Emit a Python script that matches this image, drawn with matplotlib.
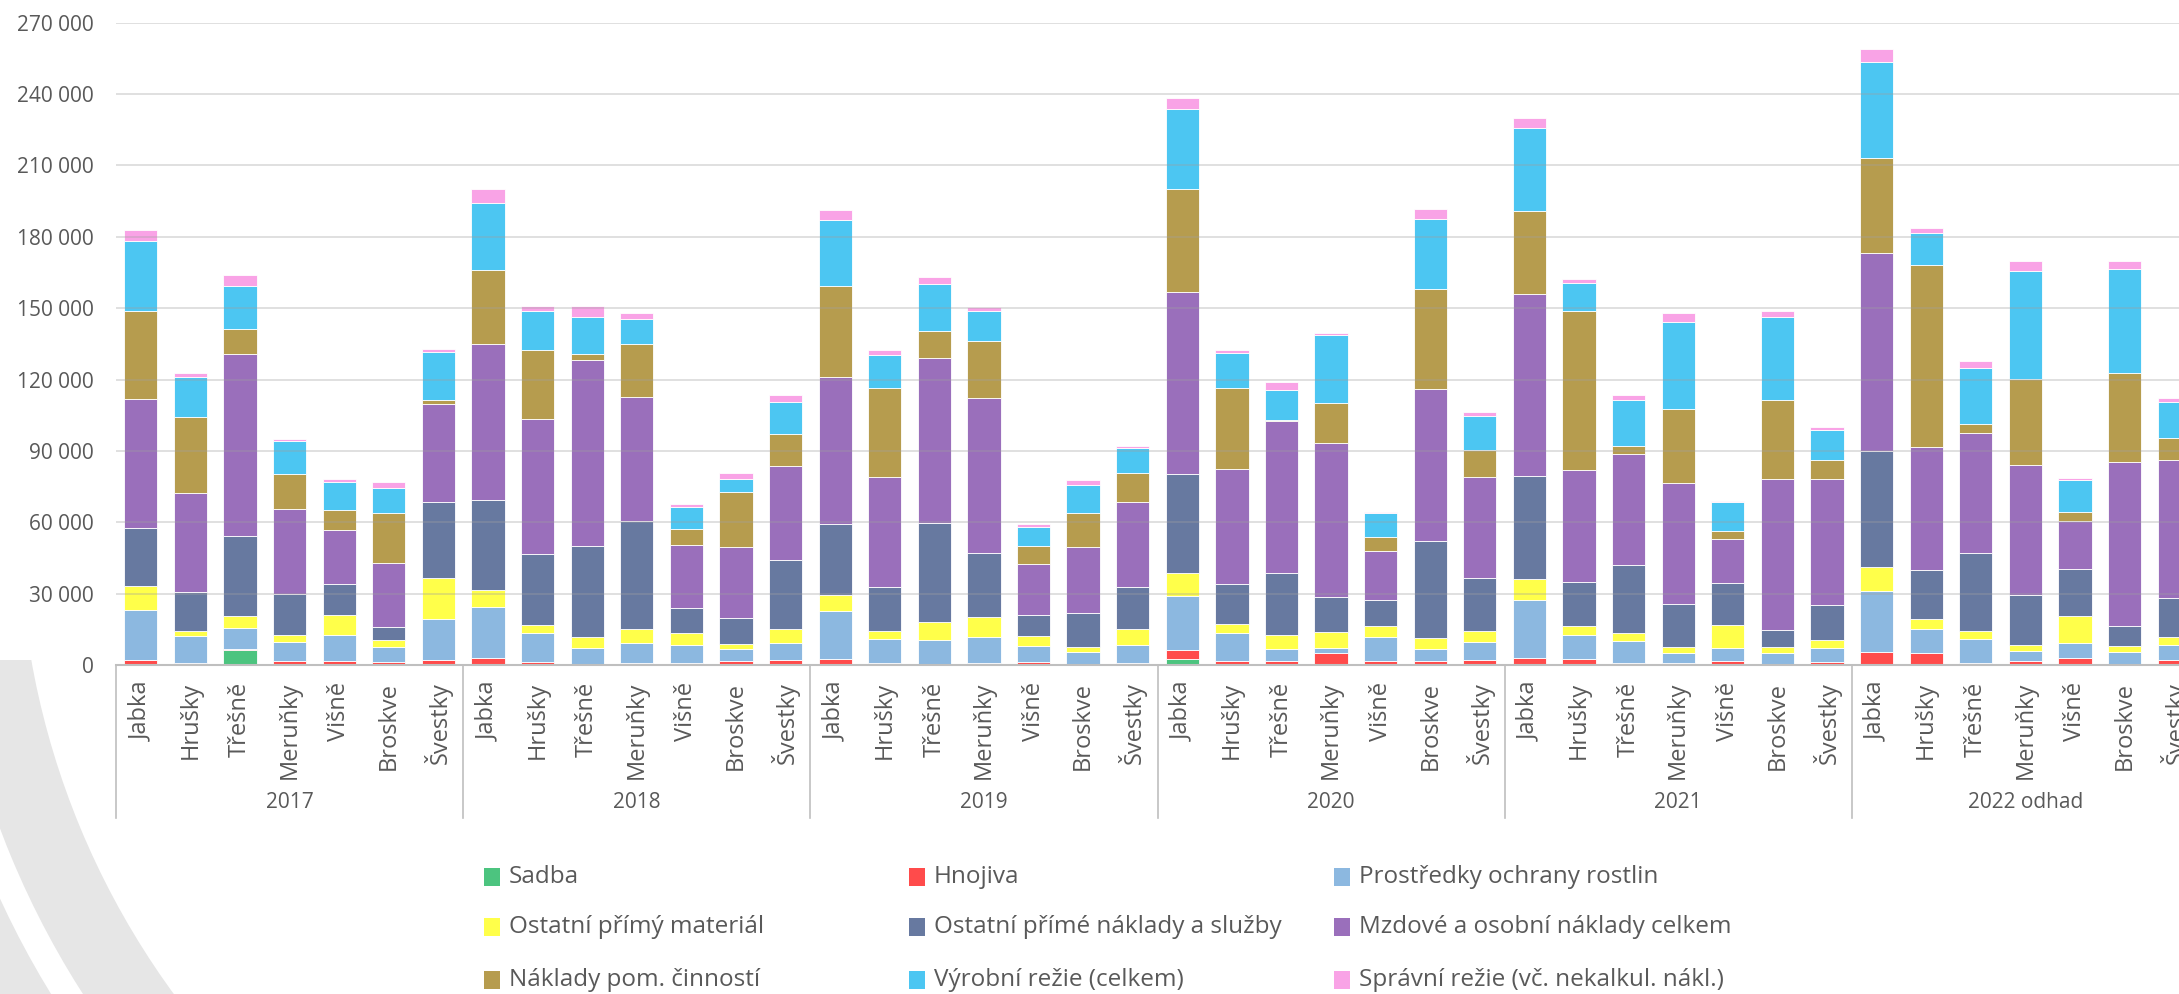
import numpy as np
import matplotlib
matplotlib.use("Agg")
import matplotlib.pyplot as plt
from matplotlib.patches import Wedge, Rectangle
import matplotlib.transforms as mtransforms

plt.rcParams['font.family'] = ['Open Sans', 'DejaVu Sans']

fruits = ["Jabka", "Hrušky", "Třešně", "Meruňky", "Višně", "Broskve", "Švestky"]
years = ["2017", "2018", "2019", "2020", "2021", "2022 odhad"]

# values per bar, years one after another (7 fruits each)
sadba = [0, 0, 6200, 0, 0, 0, 300,
         0, 0, 0, 0, 0, 0, 0,
         0, 0, 0, 0, 0, 0, 0,
         2500, 0, 0, 0, 0, 0, 0,
         0, 0, 0, 0, 0, 0, 0,
         0, 0, 0, 0, 0, 0, 200]
hnojiva = [2200, 700, 500, 1500, 1500, 1300, 1900,
           2800, 1300, 500, 700, 700, 1500, 2000,
           2500, 800, 400, 700, 1100, 600, 700,
           3700, 1800, 1800, 5100, 1500, 1500, 2000,
           3100, 2700, 700, 1000, 1500, 300, 1300,
           5500, 5100, 1000, 1800, 3100, 400, 2000]
ochrana = [21000, 11400, 8700, 8300, 11200, 6300, 17300,
           21600, 12100, 6500, 8400, 7600, 5200, 7100,
           20300, 10100, 10000, 11100, 6700, 5000, 7600,
           22800, 11500, 4800, 2100, 10200, 5300, 7600,
           24100, 9800, 9500, 4100, 5800, 4800, 5700,
           25400, 9900, 10000, 4200, 6000, 5100, 6200]
prime_material = [10100, 2200, 5100, 2700, 8400, 3000, 17000,
                  7100, 3500, 4800, 6200, 5000, 2000, 6200,
                  6500, 3600, 7700, 8300, 4200, 1800, 6700,
                  9500, 4100, 6200, 6600, 4800, 4400, 4800,
                  9100, 4100, 3400, 2500, 9500, 2400, 3500,
                  10100, 4500, 3500, 2500, 11400, 2500, 3500]
prime_sluzby = [24500, 16300, 33700, 17200, 12800, 5500, 32100,
                37900, 29700, 38300, 45100, 10700, 11100, 28900,
                30000, 18200, 41600, 27100, 9000, 14400, 17800,
                41600, 16700, 25900, 14900, 10900, 40900, 22300,
                43000, 18100, 28500, 18100, 17700, 7400, 14600,
                48800, 20500, 32400, 20800, 19900, 8400, 16300]
mzdy = [54200, 41600, 76400, 35700, 22900, 26900, 41000,
        65700, 56900, 78200, 52200, 26500, 29900, 39500,
        61700, 46300, 69500, 65200, 21300, 28000, 35700,
        76700, 48500, 64000, 64500, 20500, 63800, 42500,
        76700, 47400, 46600, 50700, 18600, 63400, 53100,
        83200, 51600, 50700, 54900, 20300, 69000, 57900]
pomocne = [36700, 32100, 10600, 14900, 8400, 21000, 1900,
           30800, 29100, 2400, 22300, 6500, 22900, 13500,
           38400, 37300, 11100, 23600, 7600, 13900, 12000,
           43100, 33900, 300, 17100, 5900, 42100, 11100,
           34800, 66900, 3400, 31300, 3100, 33200, 8100,
           40100, 76400, 3800, 36000, 3500, 37500, 9300]
vyrobni_rezie = [29600, 16900, 18300, 13900, 11800, 10600, 20000,
                 28400, 16300, 15400, 10400, 9400, 5400, 13500,
                 27700, 14200, 19700, 12800, 8300, 12100, 10600,
                 33700, 14600, 12500, 28400, 9900, 29400, 14400,
                 34900, 11500, 19300, 36600, 12200, 34600, 12500,
                 40400, 13500, 23600, 45400, 13400, 43500, 15200]
spravni_rezie = [4600, 1400, 4600, 800, 1000, 2400, 1400,
                 5700, 2200, 5000, 2700, 1400, 2600, 2600,
                 4100, 2100, 3200, 1900, 1000, 2100, 1000,
                 4800, 1400, 3400, 1000, 700, 4100, 1700,
                 4300, 1900, 1900, 3600, 700, 2900, 1400,
                 5500, 2400, 2600, 4300, 800, 3600, 1700]

series = [
    ("Sadba", sadba, "#4cc47f"),
    ("Hnojiva", hnojiva, "#ff4b4b"),
    ("Prostředky ochrany rostlin", ochrana, "#8cb8e0"),
    ("Ostatní přímý materiál", prime_material, "#ffff4a"),
    ("Ostatní přímé náklady a služby", prime_sluzby, "#6779a0"),
    ("Mzdové a osobní náklady celkem", mzdy, "#9a6fbb"),
    ("Náklady pom. činností", pomocne, "#b69c4e"),
    ("Výrobní režie (celkem)", vyrobni_rezie, "#4cc6f2"),
    ("Správní režie (vč. nekalkul. nákl.)", spravni_rezie, "#f9a3e6"),
]

W, H = 2179, 994
fig = plt.figure(figsize=(W / 100, H / 100), dpi=100)

# gray logo ring in the lower-left corner (watermark)
ring_ax = fig.add_axes([0, 0, 1, 1])
ring_ax.set_xlim(0, W)
ring_ax.set_ylim(H, 0)
ring_ax.axis("off")
clip = Rectangle((0, 660), 400, 400, transform=ring_ax.transData)
for r_out, width in [(878, 75), (960, 55)]:
    ring = Wedge((822, 520), r_out, 0, 360, width=width, color="#e6e6e6", lw=0)
    ring_ax.add_patch(ring)
    ring.set_clip_path(clip)

left, right, top, base = 116, 2199, 22.7, 665
ax = fig.add_axes([left / W, 1 - base / H, (right - left) / W, (base - top) / H])
ax.patch.set_alpha(0)

n = len(fruits) * len(years)
x = np.arange(n)
bottom = np.zeros(n)
for name, vals, color in series:
    vals = np.array(vals, dtype=float)
    ax.bar(x, vals, 0.67, bottom=bottom, color=color, edgecolor="white",
           linewidth=0.6, label=name, zorder=2)
    bottom += vals

ax.set_xlim(-0.5, n - 0.5)
ax.set_ylim(0, 270000)
yt = np.arange(0, 270001, 30000)
ax.set_yticks(yt)
ax.set_yticklabels([f"{v:,}".replace(",", " ") for v in yt], fontsize=15, color="#595959")
ax.grid(axis="y", color="#a0a0a0", alpha=0.35, lw=1.3, zorder=3)
ax.set_axisbelow(False)
ax.tick_params(axis="y", length=0, pad=16)

ax.set_xticks(x)
ax.set_xticklabels(fruits * len(years), rotation=90, fontsize=17, color="#595959")
ax.tick_params(axis="x", length=0, pad=12)

for s in ["top", "right", "left"]:
    ax.spines[s].set_visible(False)
ax.spines["bottom"].set_color("#bfbfbf")
ax.spines["bottom"].set_linewidth(1.5)
ax.spines["bottom"].set_zorder(4)

# group separators and year labels below the axis
trans = mtransforms.blended_transform_factory(ax.transData, ax.transAxes)
sep_y = (base - 818) / (base - top)
year_y = (base - 803) / (base - top)
for g in range(len(years) + 1):
    xs = g * len(fruits) - 0.5
    ax.plot([xs, xs], [0, sep_y], transform=trans, color="#bfbfbf", lw=1.2, clip_on=False)
for g, yr in enumerate(years):
    ax.text(g * len(fruits) + 3, year_y, yr, transform=trans, ha="center", va="center",
            fontsize=15, color="#595959")

# legend: 3 x 3 grid, row-major
col_x = [492, 917, 1342]
row_y = [877, 927, 980]
for i, (name, vals, color) in enumerate(series):
    cx = col_x[i % 3]
    cy = row_y[i // 3]
    ring_ax.add_patch(Rectangle((cx - 8, cy - 9), 16, 18, color=color, lw=0))
    ring_ax.text(cx + 17, cy, name, ha="left", va="center", fontsize=17.5, color="#595959")

fig.savefig("out.png", dpi=100)
